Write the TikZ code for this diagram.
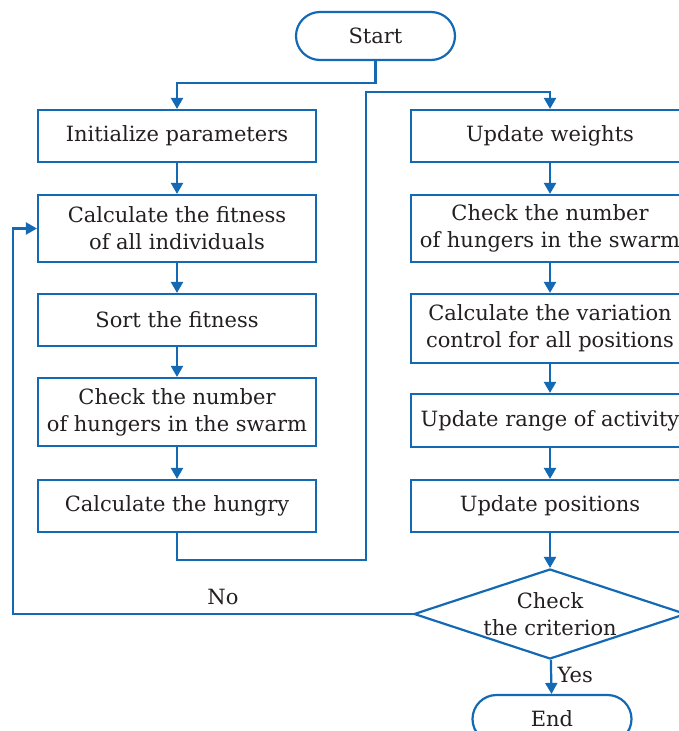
\documentclass[tikz,border=0pt]{standalone}
\usepackage{fontspec}
\setmainfont{DejaVu Serif}
\usetikzlibrary{arrows.meta,shapes.geometric}
\definecolor{fcblue}{RGB}{20,105,180}
\definecolor{fctext}{RGB}{35,31,32}
\begin{document}
\begin{tikzpicture}[x=1pt,y=-1pt,
  every node/.style={font=\fontsize{21}{27}\selectfont, text=fctext},
  box/.style={draw=fcblue, line width=2.2pt, rectangle, minimum width=278pt, inner sep=0pt, align=center},
  term/.style={draw=fcblue, line width=2.2pt, rectangle, rounded corners=24pt, minimum width=159pt, minimum height=48pt, inner sep=0pt},
  dia/.style={draw=fcblue, line width=2.2pt, diamond, minimum width=272pt, minimum height=90pt, inner sep=0pt},
  conn/.style={draw=fcblue, line width=2.2pt},
  arr/.style={conn, -{Triangle[length=11pt,width=12pt]}}]
\useasboundingbox (0,0) rectangle (679,731);
\clip (0,0) rectangle (679,731);
% terminals
\node[term] (start) at (375.5,36) {Start};
\node[term] (end) at (552,719) {End};
% left column
\node[box, minimum height=52pt] (b1) at (177,136) {Initialize parameters};
\node[box, minimum height=67pt] (b2) at (177,228.5) {Calculate the fitness\\of all individuals};
\node[box, minimum height=52pt] (b3) at (177,320) {Sort the fitness};
\node[box, minimum height=68pt] (b4) at (177,412) {Check the number\\of hungers in the swarm};
\node[box, minimum height=52pt] (b5) at (177,506) {Calculate the hungry};
% right column
\node[box, minimum height=52pt] (r1) at (550,136) {Update weights};
\node[box, minimum height=67pt] (r2) at (550,228.5) {Check the number\\of hungers in the swarm};
\node[box, minimum height=69pt] (r3) at (550,328.5) {Calculate the variation\\control for all positions};
\node[box, minimum height=53pt] (r4) at (550,420.5) {Update range of activity};
\node[box, minimum height=52pt] (r5) at (550,506) {Update positions};
% decision
\node[dia] (d) at (550,614) {};
\node[align=center, inner sep=0pt] (dt) at (d) {Check\\the criterion};
% helper coordinates
\coordinate (up) at (366,92);
\coordinate (lft) at (13,0);
% connectors
\draw[arr] (start.south) -- ++(0,22) -| (b1.north);
\draw[arr] (b1) -- (b2);
\draw[arr] (b2) -- (b3);
\draw[arr] (b3) -- (b4);
\draw[arr] (b4) -- (b5);
\draw[arr] (b5.south) -- ++(0,27) -| (up) -| (r1.north);
\draw[arr] (r1) -- (r2);
\draw[arr] (r2) -- (r3);
\draw[arr] (r3) -- (r4);
\draw[arr] (r4) -- (r5);
\draw[arr] (r5) -- (d);
\draw[arr] (d) -- (end) node[pos=0.45, right=2pt] (yes) {Yes};
\draw[arr] (d.west) -- (d.west -| lft) |- (b2.west);
\node (no) at (223,597) {No};
\end{tikzpicture}
\end{document}
